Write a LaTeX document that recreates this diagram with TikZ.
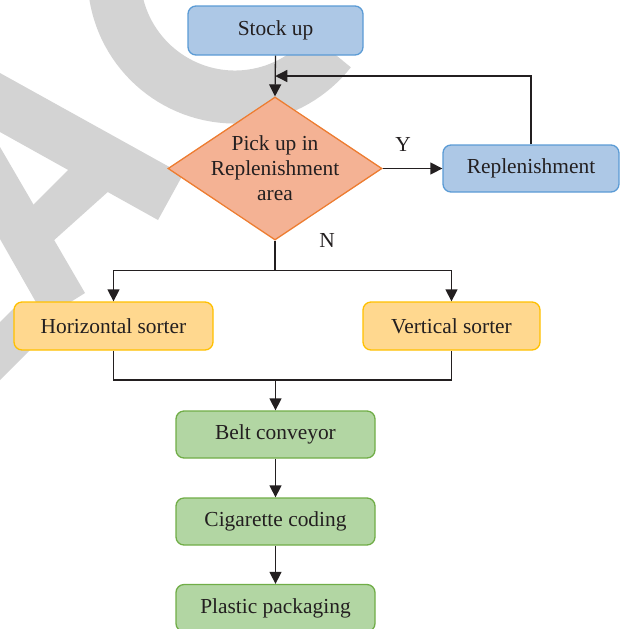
\documentclass[tikz,border=0pt]{standalone}
\usepackage{fontspec}
\setmainfont{Liberation Serif}
\usetikzlibrary{arrows.meta, shapes.geometric, calc}
\definecolor{BoxBlue}{HTML}{ADC8E6}
\definecolor{EdgeBlue}{HTML}{5B9BD5}
\definecolor{BoxOrange}{HTML}{F4B294}
\definecolor{EdgeOrange}{HTML}{ED7D31}
\definecolor{BoxYellow}{HTML}{FFD88F}
\definecolor{EdgeYellow}{HTML}{FFC000}
\definecolor{BoxGreen}{HTML}{B2D6A3}
\definecolor{EdgeGreen}{HTML}{70AD47}
\definecolor{Ink}{HTML}{231F20}
\definecolor{Mark}{HTML}{D3D3D3}

\begin{document}
\begin{tikzpicture}[
    x=0.5pt, y=-0.5pt,
    font=\fontsize{10.7}{12.5}\selectfont,
    box/.style={draw, rounded corners=4pt, line width=0.65pt, text=Ink,
        inner sep=0pt, minimum width=99.5pt, minimum height=23.5pt},
    bluebox/.style={box, draw=EdgeBlue, fill=BoxBlue},
    yellowbox/.style={box, draw=EdgeYellow, fill=BoxYellow},
    greenbox/.style={box, draw=EdgeGreen, fill=BoxGreen},
    decision/.style={diamond, draw=EdgeOrange, fill=BoxOrange, line width=0.65pt,
        minimum width=107pt, minimum height=71.5pt, inner sep=0pt},
    arr/.style={draw=Ink, line width=0.65pt, -{Triangle[length=6pt, width=6pt]}},
    wire/.style={draw=Ink, line width=0.65pt},
]
\useasboundingbox (0,0) rectangle (632,628);

% ---- watermark ----
\fill[Mark] (0,73) -- (183,174.5) -- (158,220) -- (0,132) -- cycle;
\fill[Mark] (0,147) -- (85,293) -- (45,318) -- (0,239) -- cycle;
\fill[Mark] (33,205) -- (70,168) -- (110,190) -- (52,242) -- cycle;
\fill[Mark] (0,322) -- (20,302) -- (50,330) -- (0,380) -- cycle;
\draw[Mark, line width=26.5pt] ($(235,-24)+(172:121)$) arc[start angle=172, end angle=38, radius=121];

% ---- steps ----
\node[bluebox, minimum width=87.5pt, minimum height=24.5pt] (stock) at (275.5,30.5) {Stock up};
\node[decision, label={[align=center, text=Ink]center:Pick up in\\Replenishment\\area}]
    (pick) at (275,168.5) {};
\node[bluebox, minimum width=88pt] (refill) at (531,168.5) {Replenishment};
\node[yellowbox, minimum height=24pt] (hsort) at (113.5,326) {Horizontal sorter};
\node[yellowbox, minimum width=88.5pt, minimum height=24pt] (vsort) at (451.5,326) {Vertical sorter};
\foreach \n/\y/\t in {belt/434.5/Belt conveyor, code/521.5/Cigarette coding, pack/608/Plastic packaging}
    \node[greenbox] (\n) at (275.5,\y) {\t};

\node[text=Ink] (ylab) at (403,144) {Y};
\node[text=Ink] (nlab) at (327,240) {N};

% ---- connectors ----
\coordinate (back) at ($(stock.south)!0.5!(pick.north)$);
\coordinate (split) at ($(pick.south)+(0,30)$);
\coordinate (merge) at (275.5,380);

\draw[arr] (stock.south) -- (pick.north);
\draw[arr] (refill.north) |- (back);
\draw[arr] (pick.east) -- (refill.west);
\draw[wire] (pick.south) -- (split);
\draw[arr] (split) -| (hsort.north);
\draw[arr] (split) -| (vsort.north);
\draw[wire] (hsort.south) |- (merge) -| (vsort.south);
\draw[arr] (merge) -- (belt.north);
\draw[arr] (belt.south) -- (code.north);
\draw[arr] (code.south) -- (pack.north);

\end{tikzpicture}
\end{document}
